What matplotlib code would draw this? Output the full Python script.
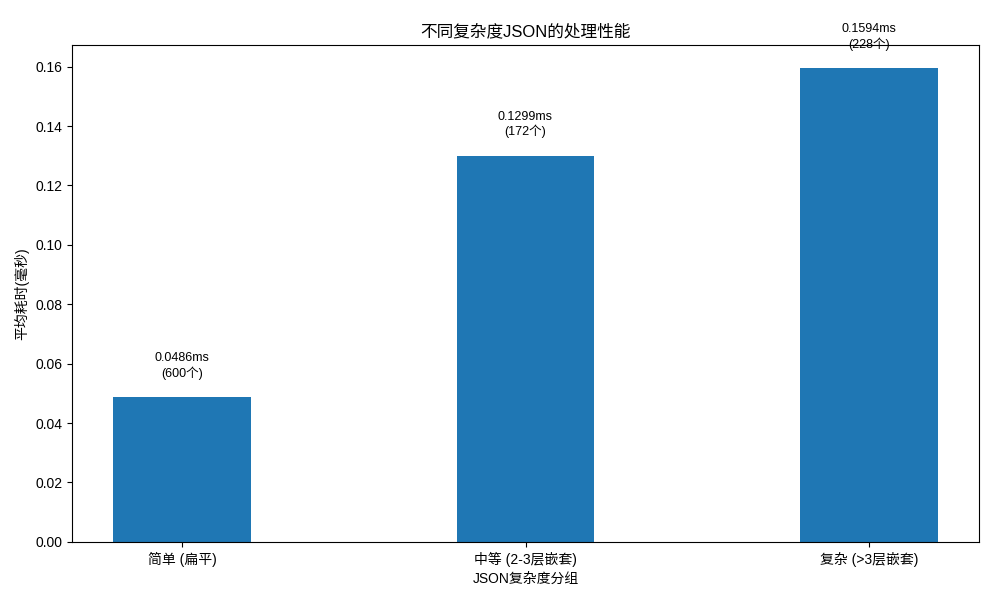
import matplotlib
matplotlib.use("Agg")
import matplotlib.pyplot as plt

plt.rcParams['font.family'] = ['Liberation Sans', 'Noto Sans CJK SC', 'DejaVu Sans']

categories = ['简单 (扁平)', '中等 (2-3层嵌套)', '复杂 (>3层嵌套)']
values = [0.0486, 0.1299, 0.1594]
counts = [600, 172, 228]

fig, ax = plt.subplots(figsize=(10, 6), dpi=100)
bars = ax.bar(categories, values, width=0.4, color='#1f77b4')
for b, v, c in zip(bars, values, counts):
    ax.text(b.get_x() + b.get_width()/2, v + 0.006, f'{v:.4f}ms\n({c}个)',
            ha='center', va='bottom', fontsize=9)
ax.set_ylim(0, 0.1673)
ax.set_title('不同复杂度JSON的处理性能')
ax.set_xlabel('JSON复杂度分组')
ax.set_ylabel('平均耗时(毫秒)')
fig.subplots_adjust(left=0.072, right=0.979, top=0.925, bottom=0.097)
fig.savefig('out.png')
